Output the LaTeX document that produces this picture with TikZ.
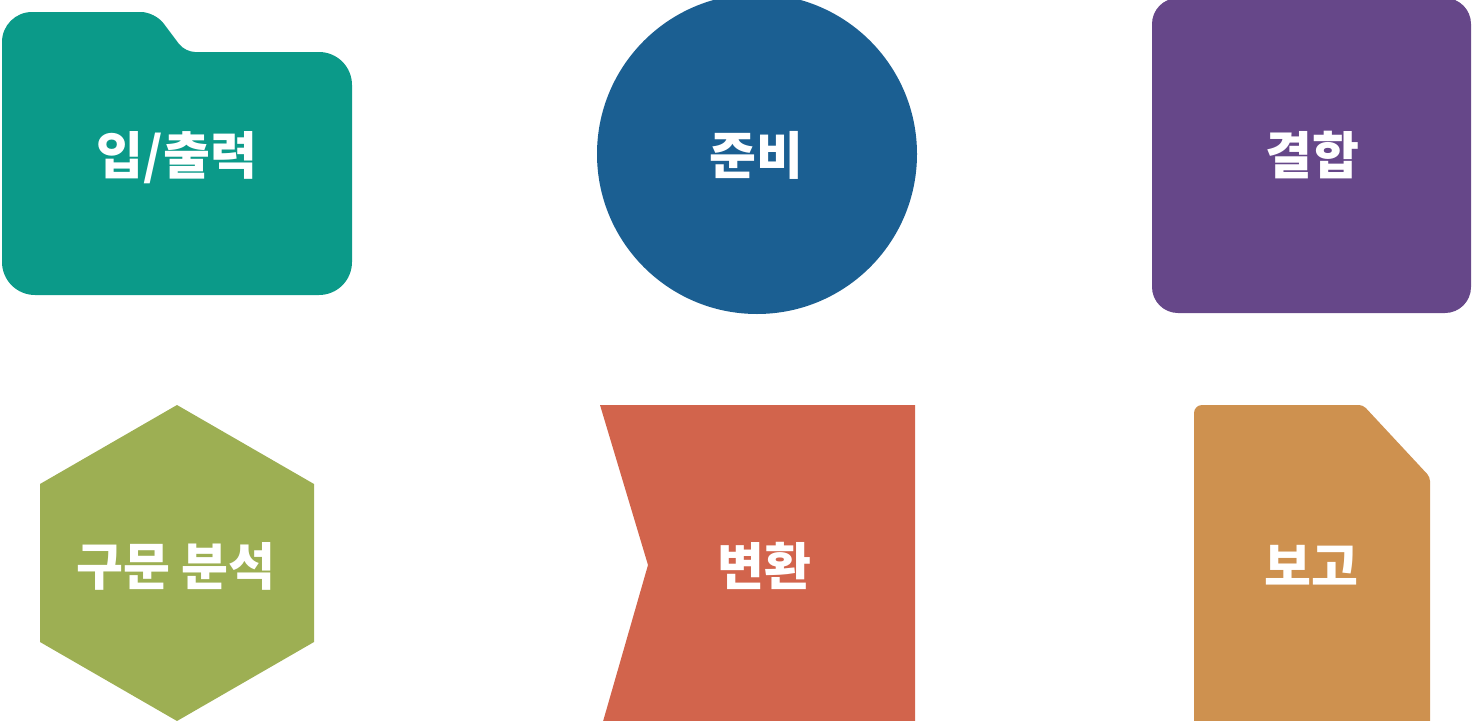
\documentclass[tikz,border=0pt]{standalone}
\usepackage{fontspec}
\newfontfamily\kr{Noto Sans CJK KR}
\definecolor{cteal}{HTML}{0B9A89}
\definecolor{cblue}{HTML}{1B5F92}
\definecolor{cpurple}{HTML}{664789}
\definecolor{cgreen}{HTML}{9DAF53}
\definecolor{cred}{HTML}{D2644C}
\definecolor{corange}{HTML}{CE914F}
\tikzset{
  lbl/.style={anchor=base, text=white, font=\kr\bfseries\fontsize{51}{54}\selectfont, inner sep=0pt}
}
\begin{document}
\begin{tikzpicture}[x=1pt,y=-1pt]
\useasboundingbox (0,0) rectangle (1472,720);
% folder
\fill[cteal] (2,200) [rounded corners=30] -- (2,12) [rounded corners=14] -- (155,12) [rounded corners=10] -- (185,52) [rounded corners=33] -- (352,52) -- (352,295) -- (2,295) -- cycle;
\node[lbl] (io) at (177,174) {입/출력};
% circle
\fill[cblue] (757,154) circle[radius=160];
\node[lbl] (prep) at (756,174) {준비};
% purple square
\fill[cpurple, rounded corners=26] (1152,-2) rectangle (1471,313);
\node[lbl] (join) at (1312,174) {결합};
% hexagon
\fill[cgreen] (177,405) -- (314,484) -- (314,642) -- (177,721) -- (40,642) -- (40,484) -- cycle;
\node[lbl] (parse) at (176,585) {구문 분석};
% chevron
\fill[cred] (600,405) -- (915,405) -- (915,725) -- (602,725) -- (648,565) -- cycle;
\node[lbl] (conv) at (764,585) {변환};
% document
\fill[corange] (1194,600) [rounded corners=8] -- (1194,405) [rounded corners=4] -- (1363,405) -- (1430,477) [rounded corners=0] -- (1430,725) -- (1194,725) -- cycle;
\node[lbl] (report) at (1311,585) {보고};
\end{tikzpicture}
\end{document}
